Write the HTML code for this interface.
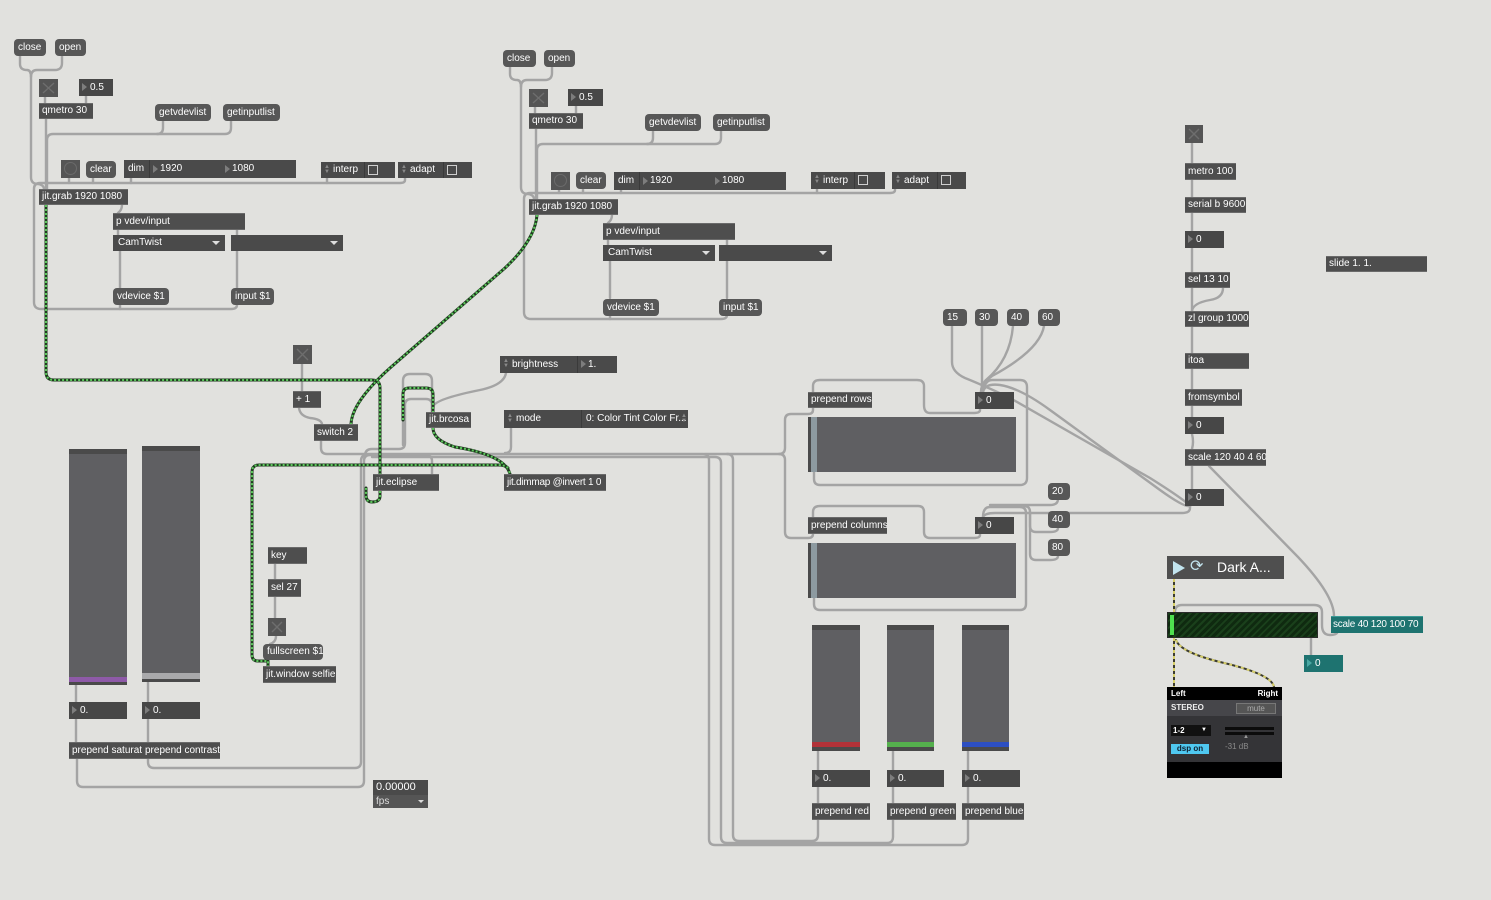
<!DOCTYPE html>
<html><head><meta charset="utf-8">
<style>
html,body{margin:0;padding:0;}
body{width:1491px;height:900px;background:#e1e1de;position:relative;overflow:hidden;font-family:"Liberation Sans",Arial,sans-serif;}
svg.c{position:absolute;left:0;top:0;}
.c path{fill:none;stroke:#a4a4a4;stroke-width:2.4;stroke-linecap:round;stroke-linejoin:round;}
.c path.g1{stroke:#1f3b1f;stroke-width:3;}
.c path.g2{stroke:#5cc85c;stroke-width:2;stroke-dasharray:2 2;stroke-linecap:butt;}
.c path.y1{stroke:#3b3b30;stroke-width:2;}
.c path.y2{stroke:#d8d06a;stroke-width:2;stroke-dasharray:3 3;stroke-linecap:butt;}
.p{position:absolute;width:0;height:0;}
.b{position:absolute;box-sizing:border-box;color:#fff;font-size:10px;white-space:nowrap;overflow:hidden;}
.o{background:#4e4e4e;border-top:1px solid #6a6a6a;border-bottom:1px solid #6a6a6a;padding-left:3px;height:16px;line-height:14px;}
.m{background:#575757;border-radius:4px;padding-left:4px;height:17px;line-height:17px;}
.n{background:#474747;padding-left:11px;height:17px;line-height:17px;}
.n:before{content:"";position:absolute;left:3px;top:4px;border-left:5px solid #7d7d7d;border-top:4px solid transparent;border-bottom:4px solid transparent;}
.t{background:#555;}
.a{background:#4a4a4a;}
.a span{position:absolute;}
.sep{position:absolute;top:0;width:1px;height:100%;background:#3a3a3a;}
.ud{position:absolute;font-size:6px;line-height:5px;color:#8a8a8a;}
.tri{position:absolute;width:0;height:0;border-left:5px solid #7d7d7d;border-top:4px solid transparent;border-bottom:4px solid transparent;}
.cb{position:absolute;width:10px;height:10px;border:1px solid #cfcfcf;box-sizing:border-box;}
.dd{position:absolute;width:0;height:0;border-top:4px solid #ddd;border-left:4px solid transparent;border-right:4px solid transparent;}
.sl{position:absolute;background:#5f5f62;border-top:5px solid #4a4a4a;box-sizing:border-box;}
.ms{position:absolute;background:#5f5f62;box-sizing:border-box;}
</style></head><body>

<svg class="c" width="1491" height="900" viewBox="0 0 1491 900">
<defs>
<g id="p1">
<path d="M20 56 V64 Q20 70 27 70 Q31 70 31 77 V177 Q31 184 38 184 Q44 185 44 189"/>
<path d="M62 56 V63 Q62 70 55 70 H37 Q31 70 31 77"/>
<path d="M45 97 V103"/>
<path d="M86 96 V103"/>
<path d="M46 119 V189"/>
<path d="M231 121 V128 Q231 134 225 134 H53 Q47 134 47 140 V189"/>
<path d="M163 121 V128 Q163 134 157 134"/>
<path d="M405 178 V180 Q405 183 400 183 H40 Q34 183 34 189 V302 Q34 309 41 309 H231 Q237 309 237 305"/>
<path d="M120 305 V309"/>
<path d="M69 178 V183 M93 178 V183 M131 178 V183 M327 178 V183"/>
<path d="M122 205 Q122 210 118 213"/>
<path d="M118 230 V235 M237 230 V235"/>
<path d="M120 251 V288 M237 251 V288"/>
</g>
</defs>
<use href="#p1"/>
<use href="#p1" transform="translate(490,10)"/>

<path d="M1192 143 V163 M1192 180 V197 M1192 213 V231 M1192 248 V272 M1192 288 V311 M1192 327 V353 M1192 369 V389 M1192 406 V417 M1192 466 V489"/>
<path d="M1223 288 Q1223 298 1210 300 Q1193 303 1192 311"/>
<path d="M1192 434 Q1194 442 1192 449"/>
<path d="M1209 466 L1298 557 Q1334 595 1334 616"/>
<path d="M1337 633 Q1335 635 1330 635 Q1322 635 1322 625 V612 Q1322 605 1314 605 H1182 Q1175 605 1175 612"/>
<path d="M1311 638 V655"/>

<path d="M952 326 V362 Q952 372 965 378 Q985 386 1010 398 L1150 478 Q1185 500 1190 506"/>
<path d="M983 392 Q985 383 1000 385 Q1020 388 1050 410 L1160 490 Q1185 508 1190 506"/>
<path d="M1190 506 V508 Q1190 513 1182 513 H995 Q985 513 983 517"/>
<path d="M982 326 V392"/>
<path d="M1013 326 Q1010 360 986 380 Q981 385 981 392"/>
<path d="M1044 326 Q1040 350 992 376 Q981 384 981 392"/>
<path d="M980 409 V410 Q980 413 974 413 H930 Q924 413 924 405 V386 Q924 380 917 380 H820 Q813 380 813 386 V392"/>
<path d="M814 472 V479 Q814 485 820 485 H1020 Q1027 485 1027 478 V387 Q1027 380 1020 380 H992 Q985 380 983 392"/>
<path d="M980 534 V535 Q980 538 974 538 H930 Q924 538 924 532 V512 Q924 506 918 506 H820 Q813 506 813 512 V517"/>
<path d="M814 598 V604 Q814 610 820 610 H1020 Q1026 610 1026 604 V513 Q1026 507 1020 507 H990 Q983 507 983 517"/>
<path d="M1058 499 Q1058 505 1050 505 H990"/>
<path d="M1058 528 Q1058 532 1050 532 H1036 Q1030 532 1030 526 V512 Q1030 506 1024 506"/>
<path d="M1058 556 Q1058 560 1050 560 H1036 Q1030 560 1030 554 V512"/>
<path d="M813 408 V410 Q813 414 808 414 H791 Q785 414 785 420 V448 Q785 454 779 454 H705"/>
<path d="M813 534 Q813 538 808 538 H791 Q785 538 785 532 V460 Q785 454 779 454"/>

<path d="M321 441 V448 Q321 454 327 454 H703 Q709 454 709 460 V839 Q709 845 715 845 H962 Q968 845 968 839 V820"/>
<path d="M372 457 H715 Q721 457 721 463 V837 Q721 843 727 843 H887 Q893 843 893 837 V820"/>
<path d="M727 454 Q733 454 733 460 V835 Q733 841 739 841 H812 Q818 841 818 835 V820"/>
<path d="M77 759 V781 Q77 787 83 787 H358 Q364 787 364 781 V461 Q364 455 370 455 H425 Q432 455 432 461 V474"/>
<path d="M148 759 V762 Q148 768 154 768 H355 Q361 768 361 762 V461 Q361 455 367 455"/>
<path d="M511 428 V447 Q511 453 505 453"/>
<path d="M506 373 Q504 385 480 390 Q440 398 434 405 Q433 408 433 412"/>
<path d="M403 445 V381 Q403 374 410 374 H425 Q432 374 432 381 V412"/>
<path d="M432 412 V405 Q432 399 426 399 H411 Q405 399 405 405 V443 Q405 449 399 449 H372 Q365 449 365 456"/>
<path d="M302 364 V391"/>
<path d="M299 408 Q300 416 310 418 Q321 419 322 424"/>
<path d="M275 564 V579 M275 597 V618 M268 660 V666"/>
<path d="M276 636 Q276 642 270 644"/>
<path d="M76 685 V742 M148 682 V742"/>
<path d="M818 751 V803 M893 751 V803 M968 751 V803"/>

<path class="g1" d="M46 205 V372 Q46 380 54 380 H372 Q380 380 380 388 V474"/>
<path class="g2" d="M46 205 V372 Q46 380 54 380 H372 Q380 380 380 388 V474"/>
<path class="g1" d="M537 215 Q535 240 505 268 L390 368 Q352 402 351 424"/>
<path class="g2" d="M537 215 Q535 240 505 268 L390 368 Q352 402 351 424"/>
<path class="g1" d="M380 491 V496 Q380 502 372 502 Q366 502 366 495 V488"/>
<path class="g2" d="M380 491 V496 Q380 502 372 502 Q366 502 366 495 V488"/>
<path class="g1" d="M403 420 V394 Q403 388 409 388 H426 Q433 388 433 394 V412"/>
<path class="g2" d="M403 420 V394 Q403 388 409 388 H426 Q433 388 433 394 V412"/>
<path class="g1" d="M433 428 Q433 440 455 447 Q505 455 510 474"/>
<path class="g2" d="M433 428 Q433 440 455 447 Q505 455 510 474"/>
<path class="g1" d="M508 468 Q505 465 498 465 H259 Q252 465 252 472 V655 Q252 661 258 661 H268 V666"/>
<path class="g2" d="M508 468 Q505 465 498 465 H259 Q252 465 252 472 V655 Q252 661 258 661 H268 V666"/>

<path class="y1" d="M1174 579 V612"/>
<path class="y2" d="M1174 579 V612"/>
<path class="y1" d="M1174 638 V687"/>
<path class="y2" d="M1174 638 V687"/>
<path class="y1" d="M1176 640 Q1180 652 1220 662 Q1272 674 1274 687"/>
<path class="y2" d="M1176 640 Q1180 652 1220 662 Q1272 674 1274 687"/>
</svg>

<div class="p" style="left:0;top:0">
<div class="b m" style="left:14px;top:39px;width:32px">close</div>
<div class="b m" style="left:55px;top:39px;width:31px">open</div>
<div class="b t" style="left:39px;top:79px;width:19px;height:18px"><svg width="19" height="18"><path d="M4 4L15 14M15 4L4 14" stroke="#6e6e6e" stroke-width="1.4"/></svg></div>
<div class="b n" style="left:79px;top:79px;width:34px">0.5</div>
<div class="b o" style="left:39px;top:103px;width:54px">qmetro 30</div>
<div class="b m" style="left:155px;top:104px;width:56px">getvdevlist</div>
<div class="b m" style="left:223px;top:104px;width:57px">getinputlist</div>
<div class="b t" style="left:61px;top:160px;width:19px;height:18px"><div style="position:absolute;left:3px;top:2px;width:11px;height:11px;border:1.5px solid #6b6b6b;border-radius:50%"></div></div>
<div class="b m" style="left:86px;top:161px;width:30px">clear</div>
<div class="b a" style="left:124px;top:160px;width:172px;height:18px;line-height:18px">
 <span style="left:4px">dim</span><div class="sep" style="left:25px"></div>
 <div class="tri" style="left:29px;top:5px"></div><span style="left:36px">1920</span>
 <div class="tri" style="left:101px;top:5px"></div><span style="left:108px">1080</span>
</div>
<div class="b a" style="left:321px;top:162px;width:74px;height:16px;line-height:16px">
 <div class="ud" style="left:3px;top:3px">▲<br>▼</div><span style="left:12px">interp</span><div class="sep" style="left:43px"></div><div class="cb" style="left:47px;top:3px"></div>
</div>
<div class="b a" style="left:398px;top:162px;width:74px;height:16px;line-height:16px">
 <div class="ud" style="left:3px;top:3px">▲<br>▼</div><span style="left:12px">adapt</span><div class="sep" style="left:45px"></div><div class="cb" style="left:49px;top:3px"></div>
</div>
<div class="b o" style="left:39px;top:189px;width:89px">jit.grab 1920 1080</div>
<div class="b o" style="left:113px;top:213px;width:132px;height:17px;line-height:15px">p vdev/input</div>
<div class="b a" style="left:113px;top:235px;width:112px;height:16px;line-height:16px;padding-left:5px">CamTwist<div class="dd" style="left:99px;top:6px"></div></div>
<div class="b a" style="left:231px;top:235px;width:112px;height:16px"><div class="dd" style="left:99px;top:6px"></div></div>
<div class="b m" style="left:113px;top:288px;width:56px">vdevice $1</div>
<div class="b m" style="left:231px;top:288px;width:43px">input $1</div>
</div>

<div class="p" style="left:490px;top:10px">
<div class="b m" style="left:13px;top:40px;width:33px">close</div>
<div class="b m" style="left:54px;top:40px;width:31px">open</div>
<div class="b t" style="left:39px;top:79px;width:19px;height:18px"><svg width="19" height="18"><path d="M4 4L15 14M15 4L4 14" stroke="#6e6e6e" stroke-width="1.4"/></svg></div>
<div class="b n" style="left:78px;top:79px;width:35px">0.5</div>
<div class="b o" style="left:39px;top:103px;width:54px">qmetro 30</div>
<div class="b m" style="left:155px;top:104px;width:56px">getvdevlist</div>
<div class="b m" style="left:223px;top:104px;width:57px">getinputlist</div>
<div class="b t" style="left:61px;top:162px;width:19px;height:18px"><div style="position:absolute;left:3px;top:2px;width:11px;height:11px;border:1.5px solid #6b6b6b;border-radius:50%"></div></div>
<div class="b m" style="left:86px;top:162px;width:30px">clear</div>
<div class="b a" style="left:124px;top:162px;width:172px;height:18px;line-height:18px">
 <span style="left:4px">dim</span><div class="sep" style="left:25px"></div>
 <div class="tri" style="left:29px;top:5px"></div><span style="left:36px">1920</span>
 <div class="tri" style="left:101px;top:5px"></div><span style="left:108px">1080</span>
</div>
<div class="b a" style="left:321px;top:162px;width:74px;height:17px;line-height:17px">
 <div class="ud" style="left:3px;top:3px">▲<br>▼</div><span style="left:12px">interp</span><div class="sep" style="left:43px"></div><div class="cb" style="left:47px;top:3px"></div>
</div>
<div class="b a" style="left:402px;top:162px;width:74px;height:17px;line-height:17px">
 <div class="ud" style="left:3px;top:3px">▲<br>▼</div><span style="left:12px">adapt</span><div class="sep" style="left:45px"></div><div class="cb" style="left:49px;top:3px"></div>
</div>
<div class="b o" style="left:39px;top:189px;width:89px">jit.grab 1920 1080</div>
<div class="b o" style="left:113px;top:213px;width:132px;height:17px;line-height:15px">p vdev/input</div>
<div class="b a" style="left:113px;top:235px;width:112px;height:16px;line-height:16px;padding-left:5px">CamTwist<div class="dd" style="left:99px;top:6px"></div></div>
<div class="b a" style="left:229px;top:235px;width:113px;height:16px"><div class="dd" style="left:100px;top:6px"></div></div>
<div class="b m" style="left:113px;top:289px;width:56px">vdevice $1</div>
<div class="b m" style="left:229px;top:289px;width:43px">input $1</div>
</div>

<div class="b t" style="left:1185px;top:125px;width:18px;height:18px"><svg width="18" height="18"><path d="M4 4L14 14M14 4L4 14" stroke="#6e6e6e" stroke-width="1.4"/></svg></div>
<div class="b o" style="left:1185px;top:163px;width:51px;height:17px;line-height:15px">metro 100</div>
<div class="b o" style="left:1185px;top:197px;width:61px">serial b 9600</div>
<div class="b n" style="left:1185px;top:231px;width:39px">0</div>
<div class="b o" style="left:1326px;top:256px;width:101px">slide 1. 1.</div>
<div class="b o" style="left:1185px;top:272px;width:45px">sel 13 10</div>
<div class="b o" style="left:1185px;top:311px;width:64px">zl group 1000</div>
<div class="b o" style="left:1185px;top:353px;width:64px">itoa</div>
<div class="b o" style="left:1185px;top:389px;width:57px;height:17px;line-height:15px">fromsymbol</div>
<div class="b n" style="left:1185px;top:417px;width:39px">0</div>
<div class="b o" style="left:1185px;top:449px;width:81px;height:17px;line-height:15px">scale 120 40 4 60</div>
<div class="b n" style="left:1185px;top:489px;width:39px">0</div>

<div class="b t" style="left:293px;top:345px;width:19px;height:19px"><svg width="19" height="19"><path d="M4 4L15 15M15 4L4 15" stroke="#6e6e6e" stroke-width="1.4"/></svg></div>
<div class="b o" style="left:293px;top:391px;width:28px;height:17px;line-height:15px">+ 1</div>
<div class="b o" style="left:314px;top:424px;width:44px;height:17px;line-height:15px">switch 2</div>
<div class="b a" style="left:500px;top:356px;width:117px;height:17px;line-height:17px">
 <div class="ud" style="left:3px;top:3px">▲<br>▼</div><span style="left:12px">brightness</span><div class="sep" style="left:77px"></div>
 <div class="tri" style="left:81px;top:4px"></div><span style="left:88px">1.</span>
</div>
<div class="b o" style="left:426px;top:412px;width:45px">jit.brcosa</div>
<div class="b a" style="left:504px;top:410px;width:184px;height:18px;line-height:18px">
 <div class="ud" style="left:3px;top:4px">▲<br>▼</div><span style="left:12px">mode</span><div class="sep" style="left:77px"></div>
 <span style="left:82px">0: Color Tint Color Fr...</span><div class="ud" style="left:177px;top:4px">▲<br>▼</div>
</div>
<div class="b o" style="left:373px;top:474px;width:66px;height:17px;line-height:15px">jit.eclipse</div>
<div class="b o" style="left:504px;top:474px;width:102px;height:17px;line-height:15px;letter-spacing:-0.25px">jit.dimmap @invert 1 0</div>

<div class="sl" style="left:69px;top:449px;width:58px;height:236px"><div style="position:absolute;left:0;right:0;top:223px;height:5px;background:#8e5aa8"></div><div style="position:absolute;left:0;right:0;top:228px;height:3px;background:#4a4a4a"></div></div>
<div class="sl" style="left:142px;top:446px;width:58px;height:236px"><div style="position:absolute;left:0;right:0;top:222px;height:6px;background:#a9a9ab"></div><div style="position:absolute;left:0;right:0;top:228px;height:3px;background:#4a4a4a"></div></div>
<div class="b n" style="left:69px;top:702px;width:58px">0.</div>
<div class="b n" style="left:142px;top:702px;width:58px">0.</div>
<div class="b o" style="left:69px;top:742px;width:75px;height:17px;line-height:15px">prepend saturation</div>
<div class="b o" style="left:142px;top:742px;width:78px;height:17px;line-height:15px">prepend contrast</div>
<div class="b o" style="left:268px;top:547px;width:39px;height:17px;line-height:15px">key</div>
<div class="b o" style="left:268px;top:579px;width:33px;height:18px;line-height:16px">sel 27</div>
<div class="b t" style="left:268px;top:618px;width:18px;height:18px"><svg width="18" height="18"><path d="M4 4L14 14M14 4L4 14" stroke="#6e6e6e" stroke-width="1.4"/></svg></div>
<div class="b m" style="left:263px;top:644px;width:60px;height:16px;line-height:16px">fullscreen $1</div>
<div class="b o" style="left:263px;top:666px;width:73px;height:17px;line-height:15px">jit.window selfie</div>
<div class="b a" style="left:373px;top:780px;width:55px;height:28px">
 <span style="left:3px;top:0;font-size:11px;line-height:15px">0.00000</span>
 <div style="position:absolute;left:0;right:0;top:15px;height:13px;background:#555"></div>
 <span style="left:3px;top:15px;font-size:10px;line-height:13px;color:#ddd">fps</span>
 <div class="dd" style="left:45px;top:20px;border-top-width:3px;border-left-width:3px;border-right-width:3px"></div>
</div>

<div class="b m" style="left:943px;top:309px;width:24px">15</div>
<div class="b m" style="left:975px;top:309px;width:23px">30</div>
<div class="b m" style="left:1007px;top:309px;width:22px">40</div>
<div class="b m" style="left:1038px;top:309px;width:22px">60</div>
<div class="b o" style="left:808px;top:392px;width:64px">prepend rows</div>
<div class="b n" style="left:975px;top:392px;width:39px">0</div>
<div class="ms" style="left:808px;top:417px;width:208px;height:55px;border-left:3px solid #4a4a4a"><div style="position:absolute;left:0;top:0;width:6px;height:100%;background:#8d9aa0"></div></div>
<div class="b m" style="left:1048px;top:483px;width:22px">20</div>
<div class="b m" style="left:1048px;top:511px;width:22px">40</div>
<div class="b m" style="left:1048px;top:539px;width:22px">80</div>
<div class="b o" style="left:808px;top:517px;width:79px;height:17px;line-height:15px">prepend columns</div>
<div class="b n" style="left:975px;top:517px;width:39px">0</div>
<div class="ms" style="left:808px;top:543px;width:208px;height:55px;border-left:3px solid #4a4a4a"><div style="position:absolute;left:0;top:0;width:6px;height:100%;background:#8d9aa0"></div></div>

<div class="sl" style="left:812px;top:625px;width:48px;height:126px"><div style="position:absolute;left:0;right:0;top:112px;height:5px;background:#b23238"></div><div style="position:absolute;left:0;right:0;top:117px;height:4px;background:#4a4a4a"></div></div>
<div class="sl" style="left:887px;top:625px;width:47px;height:126px"><div style="position:absolute;left:0;right:0;top:112px;height:5px;background:#55b04d"></div><div style="position:absolute;left:0;right:0;top:117px;height:4px;background:#4a4a4a"></div></div>
<div class="sl" style="left:962px;top:625px;width:47px;height:126px"><div style="position:absolute;left:0;right:0;top:112px;height:5px;background:#2d4fc2"></div><div style="position:absolute;left:0;right:0;top:117px;height:4px;background:#4a4a4a"></div></div>
<div class="b n" style="left:812px;top:770px;width:58px">0.</div>
<div class="b n" style="left:887px;top:770px;width:57px">0.</div>
<div class="b n" style="left:962px;top:770px;width:58px">0.</div>
<div class="b o" style="left:812px;top:803px;width:58px;height:17px;line-height:15px">prepend red</div>
<div class="b o" style="left:887px;top:803px;width:69px;height:17px;line-height:15px">prepend green</div>
<div class="b o" style="left:962px;top:803px;width:62px;height:17px;line-height:15px">prepend blue</div>

<div class="b" style="left:1167px;top:556px;width:117px;height:23px;background:#4f4f4f">
 <div style="position:absolute;left:6px;top:5px;width:0;height:0;border-left:12px solid #c2e4ee;border-top:7px solid transparent;border-bottom:7px solid transparent"></div>
 <span style="position:absolute;left:23px;top:1px;font-size:16px;line-height:20px;color:#c2e4ee">⟳</span>
 <span style="position:absolute;left:50px;top:0;font-size:14px;line-height:23px">Dark A...</span>
</div>
<div class="b" style="left:1167px;top:612px;width:151px;height:26px;background:repeating-linear-gradient(135deg,#1a401b 0 2px,#0f2a10 2px 5px);border:1px solid #2b2b2b">
 <div style="position:absolute;left:2px;top:2px;width:4px;height:20px;background:#4fe04f"></div>
</div>
<div class="b" style="left:1331px;top:616px;width:92px;height:17px;line-height:16px;background:#1e7370;border-top:1px solid #3a9a96;padding-left:2px;letter-spacing:-0.25px">scale 40 120 100 70</div>
<div class="b" style="left:1304px;top:655px;width:39px;height:17px;line-height:17px;background:#1e7370;padding-left:11px">0<div style="position:absolute;left:3px;top:4px;border-left:5px solid #4aa8a4;border-top:4px solid transparent;border-bottom:4px solid transparent"></div></div>

<div class="b" style="left:1167px;top:687px;width:115px;height:91px;background:#343437">
 <div style="position:absolute;left:0;top:0;width:115px;height:13px;background:#000"></div>
 <span style="position:absolute;left:4px;top:0;font-size:8px;font-weight:bold;line-height:13px">Left</span>
 <span style="position:absolute;right:4px;top:0;font-size:8px;font-weight:bold;line-height:13px">Right</span>
 <div style="position:absolute;left:0;top:13px;width:115px;height:16px;background:#46464a"></div>
 <span style="position:absolute;left:4px;top:13px;font-size:8px;font-weight:bold;line-height:16px;color:#eee">STEREO</span>
 <div style="position:absolute;left:69px;top:16px;width:40px;height:11px;background:#555;border:1px solid #777;box-sizing:border-box;font-size:8px;line-height:9px;text-align:center;color:#aaa">mute</div>
 <div style="position:absolute;left:4px;top:38px;width:40px;height:11px;background:#111;font-size:8px;line-height:11px;padding-left:2px;box-sizing:border-box;font-weight:bold">1-2<span style="position:absolute;right:4px;top:0;font-size:6px">▼</span></div>
 <div style="position:absolute;left:4px;top:57px;width:38px;height:10px;background:#4fc8f0;font-size:8px;line-height:10px;text-align:center;color:#102030;font-weight:bold">dsp on</div>
 <div style="position:absolute;left:58px;top:40px;width:49px;height:3px;background:#0b0b0b"></div>
 <div style="position:absolute;left:58px;top:45px;width:49px;height:3px;background:#0b0b0b"></div>
 <span style="position:absolute;left:76px;top:47px;font-size:6px;line-height:6px;color:#999">▲</span>
 <span style="position:absolute;left:58px;top:55px;font-size:8px;line-height:10px;color:#8a8a8a">-31 dB</span>
 <div style="position:absolute;left:0;top:75px;width:115px;height:16px;background:#000"></div>
</div>

</body></html>
